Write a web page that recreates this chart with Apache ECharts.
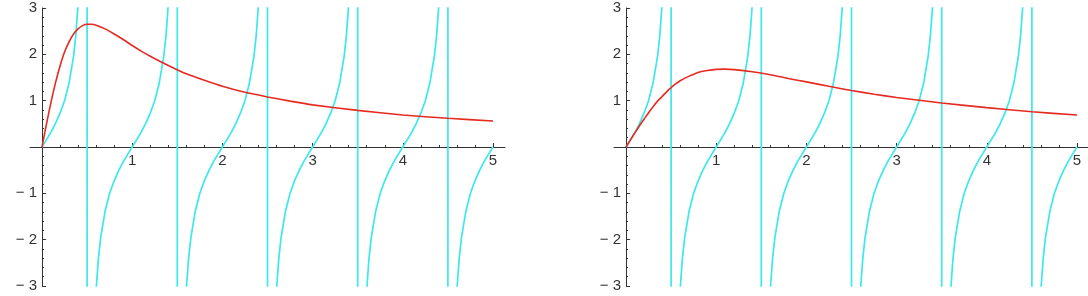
<!DOCTYPE html>
<html>
<head>
<meta charset="utf-8">
<script src="https://cdn.jsdelivr.net/npm/echarts@6/dist/echarts.min.js"></script>
<style>
html,body{margin:0;padding:0;background:#fff;}
#chart{width:1088px;height:296px;}
</style>
</head>
<body>
<div id="chart"></div>
<script>
// Red curves
var redX = [0,0.05,0.1,0.15,0.2,0.25,0.3,0.35,0.4,0.45,0.5,0.55,0.6,0.7,0.8,0.9,1.0,1.1,1.2,1.4,1.6,1.8,2.0,2.25,2.5,2.75,3.0,3.5,4.0,4.5,5.0];
var redLeftY = [0,0.50,0.97,1.39,1.75,2.05,2.27,2.44,2.55,2.62,2.65,2.65,2.63,2.55,2.44,2.32,2.19,2.07,1.96,1.76,1.58,1.44,1.31,1.18,1.08,0.99,0.91,0.79,0.69,0.62,0.56];
var redRightY = [0,0.155,0.31,0.46,0.60,0.74,0.87,0.99,1.09,1.19,1.28,1.36,1.43,1.53,1.61,1.65,1.675,1.68,1.67,1.625,1.56,1.48,1.405,1.31,1.22,1.14,1.07,0.95,0.85,0.76,0.69];

// Cyan curve (same in both panels), including the near-vertical jumps at the poles
var tanX = [
0,0.05,0.1,0.15,0.2,0.25,0.3,0.35,0.375,0.4,0.45,0.5,
0.5,0.55,0.6,0.625,0.65,0.7,0.75,0.8,0.85,0.9,0.95,1,1.05,1.1,1.15,1.2,1.25,1.3,1.35,1.375,1.4,1.45,1.5,
1.5,1.55,1.6,1.625,1.65,1.7,1.75,1.8,1.85,1.9,1.95,2,2.05,2.1,2.15,2.2,2.25,2.3,2.35,2.375,2.4,2.45,2.5,
2.5,2.55,2.6,2.625,2.65,2.7,2.75,2.8,2.85,2.9,2.95,3,3.05,3.1,3.15,3.2,3.25,3.3,3.35,3.375,3.4,3.45,3.5,
3.5,3.55,3.6,3.625,3.65,3.7,3.75,3.8,3.85,3.9,3.95,4,4.05,4.1,4.15,4.2,4.25,4.3,4.35,4.375,4.4,4.45,4.5,
4.5,4.55,4.6,4.625,4.65,4.7,4.75,4.8,4.85,4.9,4.95,5];
var tanY = [
0,0.16,0.32,0.51,0.73,1,1.38,1.96,2.41,3.08,6.31,40,
-40,-6.31,-3.08,-2.41,-1.96,-1.38,-1,-0.73,-0.51,-0.32,-0.16,0,0.16,0.32,0.51,0.73,1,1.38,1.96,2.41,3.08,6.31,40,
-40,-6.31,-3.08,-2.41,-1.96,-1.38,-1,-0.73,-0.51,-0.32,-0.16,0,0.16,0.32,0.51,0.73,1,1.38,1.96,2.41,3.08,6.31,40,
-40,-6.31,-3.08,-2.41,-1.96,-1.38,-1,-0.73,-0.51,-0.32,-0.16,0,0.16,0.32,0.51,0.73,1,1.38,1.96,2.41,3.08,6.31,40,
-40,-6.31,-3.08,-2.41,-1.96,-1.38,-1,-0.73,-0.51,-0.32,-0.16,0,0.16,0.32,0.51,0.73,1,1.38,1.96,2.41,3.08,6.31,40,
-40,-6.31,-3.08,-2.41,-1.96,-1.38,-1,-0.73,-0.51,-0.32,-0.16,0];

// Axis ranges
var xMin = 0, xMax = 5, xStep = 1;
var yTopMin = 0, yTopMax = 3, yBotMin = -3, yBotMax = 0, yStep = 1;

function pairs(xs, ys){ return xs.map(function(x,i){ return [x, ys[i]]; }); }

var FONT = 'Liberation Sans';
var FS = 15;
var AX = '#333';
var TXT = '#333';
var RED = '#e62a22';
var CYAN = '#3de8ea';

function fmt(v){ if (v === 0) return ''; return v < 0 ? '\u2212 ' + Math.abs(v) : String(v); }

var panelLeft = [42, 626];
var grids = [], xAxes = [], yAxes = [], series = [];

[redLeftY, redRightY].forEach(function(redY, p){
  var L = panelLeft[p];
  var gTop = grids.length;
  // upper half (0..3)
  grids.push({left: L, top: 8, width: 451, height: 139, containLabel: false, outerBoundsMode: 'none'});
  // lower half (-3..0)
  grids.push({left: L, top: 147, width: 451, height: 139, containLabel: false, outerBoundsMode: 'none'});
  // axis-line overhang strip
  grids.push({left: L - 12, top: 146, width: 475, height: 1, containLabel: false, outerBoundsMode: 'none'});

  xAxes.push({
    type: 'value', gridIndex: gTop, min: xMin, max: xMax, interval: xStep, position: 'bottom',
    axisLine: {show: true, onZero: false, lineStyle: {color: AX, width: 1}},
    axisTick: {show: true, inside: true, length: 4, lineStyle: {color: AX}},
    minorTick: {show: true, splitNumber: 5, length: 2, lineStyle: {color: AX}},
    axisLabel: {show: true, margin: 6, color: TXT, fontFamily: FONT, fontSize: FS, formatter: fmt, showMinLabel: true, showMaxLabel: true},
    splitLine: {show: false}
  });
  yAxes.push({
    type: 'value', gridIndex: gTop, min: yTopMin, max: yTopMax, interval: yStep, position: 'left',
    axisLine: {show: true, onZero: false, lineStyle: {color: AX, width: 1}},
    axisTick: {show: true, inside: true, length: 4, lineStyle: {color: AX}},
    minorTick: {show: true, splitNumber: 5, length: 2, lineStyle: {color: AX}},
    axisLabel: {show: true, margin: 5, color: TXT, fontFamily: FONT, fontSize: FS, formatter: fmt},
    splitLine: {show: false}
  });

  xAxes.push({
    type: 'value', gridIndex: gTop + 1, min: xMin, max: xMax, interval: xStep, position: 'top',
    axisLine: {show: false, onZero: false}, axisTick: {show: false}, axisLabel: {show: false}, splitLine: {show: false}
  });
  yAxes.push({
    type: 'value', gridIndex: gTop + 1, min: yBotMin, max: yBotMax, interval: yStep, position: 'left',
    axisLine: {show: true, onZero: false, lineStyle: {color: AX, width: 1}},
    axisTick: {show: true, inside: true, length: 4, lineStyle: {color: AX}},
    minorTick: {show: true, splitNumber: 5, length: 2, lineStyle: {color: AX}},
    axisLabel: {show: true, margin: 5, color: TXT, fontFamily: FONT, fontSize: FS, formatter: fmt},
    splitLine: {show: false}
  });

  xAxes.push({
    type: 'value', gridIndex: gTop + 2, min: xMin - 0.13, max: xMax + 0.13, position: 'bottom',
    axisLine: {show: true, onZero: false, lineStyle: {color: AX, width: 1}},
    axisTick: {show: false}, axisLabel: {show: false}, splitLine: {show: false}
  });
  yAxes.push({
    type: 'value', gridIndex: gTop + 2, min: 0, max: 1, show: false
  });

  // cyan, upper and lower halves
  series.push({
    type: 'line', xAxisIndex: gTop, yAxisIndex: gTop, data: pairs(tanX, tanY),
    showSymbol: false, symbol: 'none', clip: true, z: 2,
    lineStyle: {color: CYAN, width: 1.7}
  });
  series.push({
    type: 'line', xAxisIndex: gTop + 1, yAxisIndex: gTop + 1, data: pairs(tanX, tanY),
    showSymbol: false, symbol: 'none', clip: true, z: 2,
    lineStyle: {color: CYAN, width: 1.7}
  });
  // red
  series.push({
    type: 'line', xAxisIndex: gTop, yAxisIndex: gTop, data: pairs(redX, redY),
    showSymbol: false, symbol: 'none', smooth: 0.2, clip: false, z: 3,
    lineStyle: {color: RED, width: 1.6}
  });
});

var chart = echarts.init(document.getElementById('chart'), null, {renderer: 'canvas'});
chart.setOption({
  animation: false,
  backgroundColor: '#ffffff',
  grid: grids,
  xAxis: xAxes,
  yAxis: yAxes,
  series: series
});
</script>
</body>
</html>
